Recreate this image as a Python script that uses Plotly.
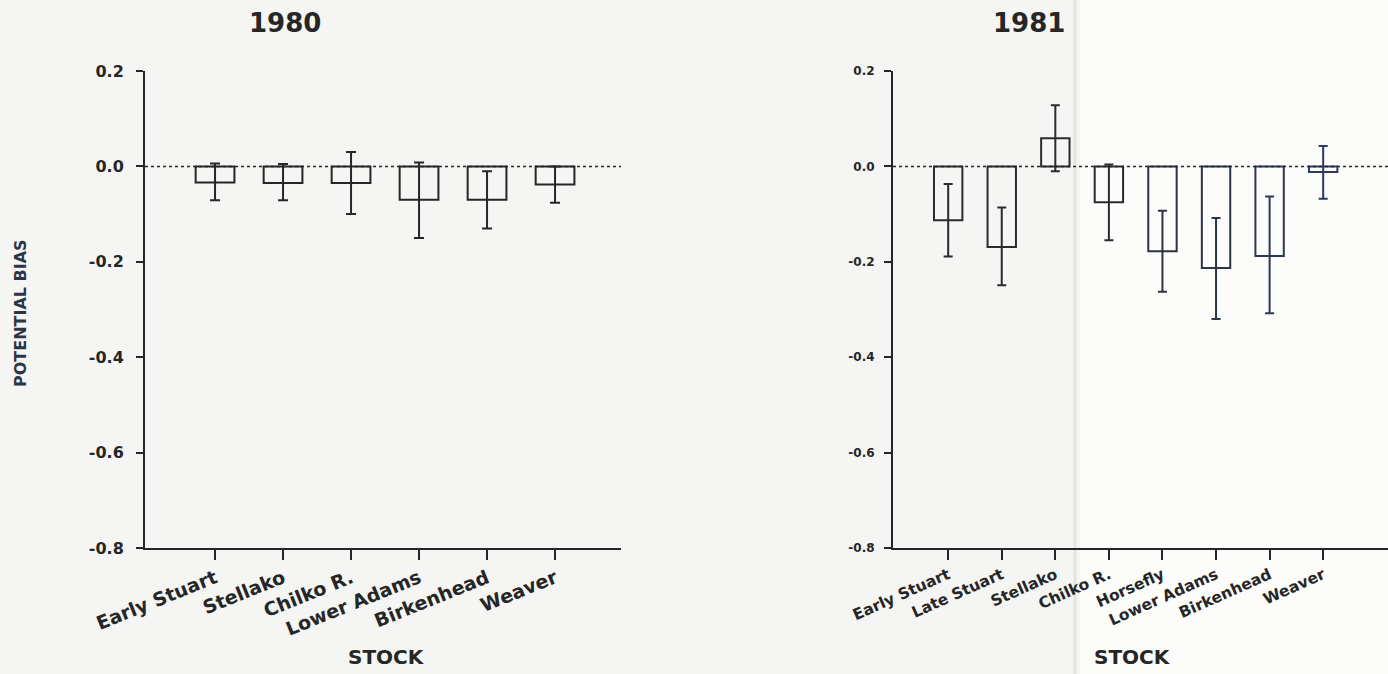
import plotly.graph_objects as go

# ---- data -------------------------------------------------------------
stocks_1980 = ["Early Stuart", "Stellako", "Chilko R.", "Lower Adams", "Birkenhead", "Weaver"]
bias_1980 = [-0.034, -0.035, -0.035, -0.070, -0.070, -0.038]
err_hi_1980 = [0.006, 0.005, 0.030, 0.008, -0.010, 0.000]
err_lo_1980 = [-0.071, -0.071, -0.100, -0.150, -0.130, -0.076]

stocks_1981 = ["Early Stuart", "Late Stuart", "Stellako", "Chilko R.", "Horsefly",
               "Lower Adams", "Birkenhead", "Weaver"]
bias_1981 = [-0.113, -0.169, 0.059, -0.075, -0.178, -0.213, -0.188, -0.012]
err_hi_1981 = [-0.037, -0.086, 0.128, 0.004, -0.093, -0.108, -0.063, 0.043]
err_lo_1981 = [-0.189, -0.249, -0.010, -0.155, -0.263, -0.320, -0.308, -0.068]

y_ticks = [-0.8, -0.6, -0.4, -0.2, 0.0, 0.2]
y_tick_text = ["-0.8", "-0.6", "-0.4", "-0.2", "0.0", "0.2"]

# ---- styling ----------------------------------------------------------
FONT = "DejaVu Sans"
INK = "#262626"
colors_1981 = ["#2b2b2e", "#2b2b2e", "#2b2b2e", "#2b2b2e", "#2e3240",
               "#2c3448", "#2c3656", "#2d3a5e"]
W, H = 1388, 674


def px_x(p):
    return p / W


def px_y(p):
    return 1 - p / H


fig = go.Figure()


def add_bars(names, vals, hi, lo, xaxis, yaxis, colors, width, cap):
    for i, (v, h, l) in enumerate(zip(vals, hi, lo)):
        fig.add_trace(go.Bar(
            x=[i], y=[v], width=width,
            marker=dict(color="rgba(0,0,0,0)", line=dict(color=colors[i], width=2)),
            error_y=dict(type="data", symmetric=False,
                         array=[h - v], arrayminus=[v - l],
                         color=colors[i], thickness=2, width=cap),
            xaxis=xaxis, yaxis=yaxis, showlegend=False, name=names[i],
        ))


add_bars(stocks_1980, bias_1980, err_hi_1980, err_lo_1980, "x", "y",
         [INK] * len(stocks_1980), 0.57, 5)
add_bars(stocks_1981, bias_1981, err_hi_1981, err_lo_1981, "x2", "y2",
         colors_1981, 0.53, 4.5)

y_dom = [px_y(548), px_y(71)]

axis_common = dict(showgrid=False, zeroline=False, showline=True, linewidth=2,
                   linecolor=INK, ticks="outside", tickwidth=2, tickcolor=INK,
                   automargin=False)

fig.update_layout(
    width=W, height=H,
    margin=dict(l=0, r=0, t=0, b=0),
    paper_bgcolor="#f5f5f3",
    plot_bgcolor="rgba(0,0,0,0)",
    barmode="overlay",
    xaxis=dict(domain=[px_x(145), px_x(621)], range=[-1.03, 5.97],
               tickvals=list(range(len(stocks_1980))), ticktext=stocks_1980,
               tickangle=-22, ticklen=10,
               tickfont=dict(family=FONT, size=19, weight="bold", color=INK),
               anchor="y", **axis_common),
    yaxis=dict(domain=y_dom, range=[-0.8, 0.2], tickvals=y_ticks, ticktext=y_tick_text,
               ticklen=7, anchor="x", ticklabelstandoff=9,
               tickfont=dict(family=FONT, size=16, weight="bold", color=INK),
               **axis_common),
    xaxis2=dict(domain=[px_x(893), 1.0], range=[-1.03, 8.21],
                tickvals=list(range(len(stocks_1981))), ticktext=stocks_1981,
                tickangle=-24, ticklen=10,
                tickfont=dict(family=FONT, size=15.5, weight="bold", color=INK),
                anchor="y2", **axis_common),
    yaxis2=dict(domain=y_dom, range=[-0.8, 0.2], tickvals=y_ticks, ticktext=y_tick_text,
                ticklen=7, anchor="x2", ticklabelstandoff=7,
                tickfont=dict(family=FONT, size=12, weight="bold", color=INK),
                **axis_common),
)

# paper tone on the right side and the faint fold line
fig.add_shape(type="rect", xref="paper", yref="paper", x0=px_x(1080), x1=1, y0=0, y1=1,
              fillcolor="#fcfcfb", line_width=0, layer="below")
fig.add_shape(type="line", xref="paper", yref="paper", x0=px_x(1075), x1=px_x(1075),
              y0=0, y1=1, line=dict(color="#e4e4e2", width=3), layer="below")

# dotted zero reference lines
for xr, yr in (("x domain", "y"), ("x2 domain", "y2")):
    fig.add_shape(type="line", xref=xr, yref=yr, x0=0, x1=1, y0=0, y1=0,
                  line=dict(color=INK, width=1.5, dash="3px,3px"))

title_font = dict(family=FONT, size=26, weight="bold", color=INK)
label_font = dict(family=FONT, size=20, weight="bold", color=INK)


def label(text, x, y, font, angle=0):
    fig.add_annotation(text=text, x=px_x(x), y=px_y(y), xref="paper", yref="paper",
                       xanchor="center", yanchor="middle", showarrow=False,
                       textangle=angle, font=font)


label("1980", 285, 23, title_font)
label("1981", 1029, 23, title_font)
label("STOCK", 386, 657, label_font)
label("STOCK", 1132, 657, label_font)
label("POTENTIAL BIAS", 20, 313,
      dict(family=FONT, size=16, weight="bold", color="#2c3448"), angle=-90)

fig.write_html("out.html")
